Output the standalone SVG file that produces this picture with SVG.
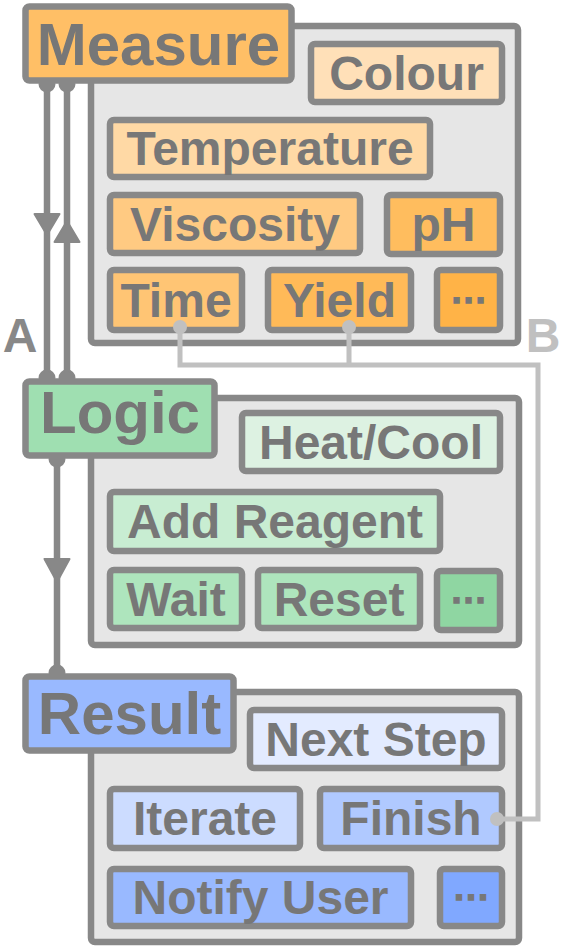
<svg xmlns="http://www.w3.org/2000/svg" width="561" height="948" viewBox="0 0 561 948">
<style>
text{font-family:"Liberation Sans",Arial,sans-serif;font-weight:bold;fill:#777;text-anchor:middle}
.hd{font-size:60px}
.it{font-size:48px}
.dots{font-family:"DejaVu Sans",sans-serif;font-size:36px}
rect{stroke:#888;stroke-width:6.5}
.panel{fill:#e6e6e6}
.wire{stroke:#888;stroke-width:6.5;fill:none}
.arr{fill:#888;stroke:#888;stroke-width:2;stroke-linejoin:round}
.bw{stroke:#c0c0c0;stroke-width:5;fill:none}
.bd{fill:#c0c0c0}
.lbl{font-size:48px}
</style>
<g id="measure">
<rect class="panel" x="91" y="26" width="427" height="317" rx="4"/>
<rect x="25.5" y="6.5" width="266" height="74" rx="4" fill="#ffbf66"/>
<text class="hd" x="158.5" y="65">Measure</text>
</g>
<g id="colour"><rect x="311" y="44" width="191" height="58" rx="4" fill="#ffe0b8"/><text class="it" x="406.5" y="90">Colour</text></g>
<g id="temperature"><rect x="110" y="120" width="320" height="57" rx="4" fill="#ffd9a5"/><text class="it" x="270" y="165">Temperature</text></g>
<g id="viscosity"><rect x="110" y="195" width="250" height="58" rx="4" fill="#ffca82"/><text class="it" x="235" y="241">Viscosity</text></g>
<g id="ph"><rect x="387" y="195" width="113" height="59" rx="4" fill="#ffbd5e"/><text class="it" x="443.5" y="241">pH</text></g>
<g id="time"><rect x="110" y="270" width="132" height="60" rx="4" fill="#ffc574"/><text class="it" x="176" y="317">Time</text></g>
<g id="yield"><rect x="268" y="270" width="143" height="60" rx="4" fill="#ffba58"/><text class="it" x="339.5" y="317">Yield</text></g>
<g id="measure-more"><rect x="437" y="270" width="63" height="60" rx="4" fill="#ffb347"/><text class="dots" x="468.5" y="313">⋯</text></g>

<g id="logic">
<rect class="panel" x="91" y="398" width="428" height="247" rx="4"/>
<rect x="25.5" y="381.5" width="189" height="74" rx="4" fill="#9fdfb1"/>
<text class="hd" x="120" y="433">Logic</text>
</g>
<g id="heatcool"><rect x="242" y="413" width="258" height="58" rx="4" fill="#ddf2e2"/><text class="it" x="371" y="459">Heat/Cool</text></g>
<g id="addreagent"><rect x="110" y="492" width="330" height="59" rx="4" fill="#c8edd2"/><text class="it" x="275" y="538">Add Reagent</text></g>
<g id="wait"><rect x="110" y="570" width="132" height="58" rx="4" fill="#aee5bd"/><text class="it" x="176" y="616">Wait</text></g>
<g id="reset"><rect x="258" y="570" width="162" height="58" rx="4" fill="#aee5bd"/><text class="it" x="339" y="616">Reset</text></g>
<g id="logic-more"><rect x="437" y="571" width="63" height="59" rx="4" fill="#8fd6a2"/><text class="dots" x="468.5" y="613">⋯</text></g>

<g id="result">
<rect class="panel" x="91" y="692" width="428" height="250" rx="4"/>
<rect x="25.5" y="676.5" width="208" height="74" rx="4" fill="#99b9ff"/>
<text class="hd" x="129.5" y="734">Result</text>
</g>
<g id="nextstep"><rect x="250" y="710" width="252" height="58" rx="4" fill="#e3ebff"/><text class="it" x="376" y="756">Next Step</text></g>
<g id="iterate"><rect x="110" y="789" width="190" height="59" rx="4" fill="#ccdcff"/><text class="it" x="205" y="835">Iterate</text></g>
<g id="finish"><rect x="320" y="789" width="182" height="59" rx="4" fill="#b0c9ff"/><text class="it" x="411" y="835">Finish</text></g>
<g id="notify"><rect x="110" y="869" width="301" height="57" rx="4" fill="#99b9ff"/><text class="it" x="260.5" y="914">Notify User</text></g>
<g id="result-more"><rect x="440" y="869" width="62" height="57" rx="4" fill="#80a8ff"/><text class="dots" x="471" y="910">⋯</text></g>

<g id="connectors">
<path class="wire" d="M47,84 V378 M67,84 V378 M57,459 V673"/>
<path class="arr" d="M39.5,84 A7.5,7.5 0 0 0 54.5,84 Z M59.5,84 A7.5,7.5 0 0 0 74.5,84 Z M39.5,378 A7.5,7.5 0 0 1 54.5,378 Z M59.5,378 A7.5,7.5 0 0 1 74.5,378 Z M49.5,459 A7.5,7.5 0 0 0 64.5,459 Z M49.5,673 A7.5,7.5 0 0 1 64.5,673 Z"/>
<polygon class="arr" points="34.5,214 59.5,214 47,235"/>
<polygon class="arr" points="54.5,242 79.5,242 67,221"/>
<polygon class="arr" points="44.5,559 69.5,559 57,582"/>
<text class="lbl" x="20" y="352" style="fill:#888">A</text>
<path class="bw" d="M180,327 V365 H538 V819 H497 M349,327 V365"/>
<circle class="bd" cx="180" cy="327" r="7"/>
<circle class="bd" cx="349" cy="327" r="7"/>
<circle class="bd" cx="497" cy="819" r="7"/>
<text class="lbl" x="543" y="352" style="fill:#c0c0c0">B</text>
</g>
</svg>
